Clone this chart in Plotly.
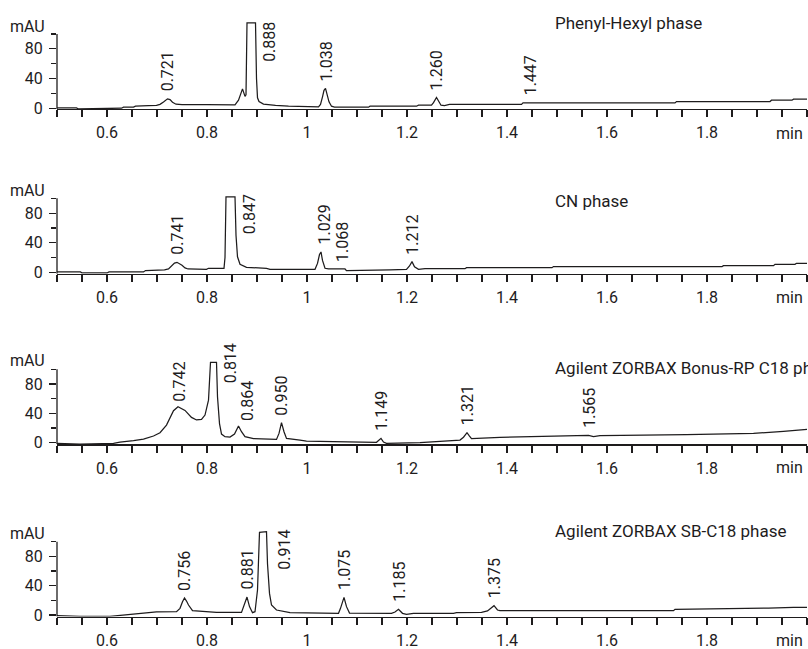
import numpy as np
import plotly.graph_objects as go

# ---------------- data ----------------
phenyl_t = [0.500, 0.539, 0.543, 0.589, 0.593, 0.629, 0.633, 0.653, 0.657, 0.679, 0.683, 0.699,
            0.706, 0.713, 0.721, 0.726, 0.731, 0.738, 0.750, 0.800, 0.856, 0.863, 0.871, 0.876,
            0.878, 0.880, 0.897, 0.899, 0.901, 0.904, 0.913, 0.937, 0.963, 1.023, 1.027, 1.031,
            1.034, 1.037, 1.040, 1.044, 1.049, 1.055, 1.123, 1.126, 1.219, 1.223, 1.249, 1.253,
            1.259, 1.264, 1.268, 1.275, 1.285, 1.429, 1.432, 1.736, 1.739, 1.926, 1.929, 1.970,
            1.973, 2.000]
phenyl_mau = [0.5, 0.5, -1.0, -1.0, 0.0, 0.0, 1.4, 1.4, 2.7, 2.7, 3.6, 3.8,
              5.2, 8.4, 12.6, 11.5, 8.0, 5.4, 4.9, 4.8, 4.6, 10.8, 26.0, 16.0,
              18.0, 115.0, 115.0, 40.0, 14.0, 9.0, 5.5, 3.8, 2.7, 1.8, 5.0, 15.3,
              24.0, 26.6, 20.0, 8.6, 2.7, 1.4, 1.4, 2.7, 2.7, 4.0, 4.0, 7.5,
              14.4, 8.0, 4.0, 3.6, 5.2, 5.2, 7.2, 7.2, 9.0, 9.0, 10.8, 10.8,
              12.2, 12.2]
phenyl_peaks = ["0.721", "0.888", "1.038", "1.260", "1.447"]

cn_t = [0.500, 0.547, 0.550, 0.600, 0.604, 0.673, 0.677, 0.715, 0.723, 0.729, 0.735, 0.740,
        0.745, 0.750, 0.756, 0.762, 0.799, 0.803, 0.834, 0.836, 0.838, 0.856, 0.858, 0.861,
        0.866, 0.879, 0.919, 0.926, 1.016, 1.021, 1.025, 1.028, 1.031, 1.036, 1.043, 1.076,
        1.079, 1.163, 1.166, 1.199, 1.205, 1.210, 1.215, 1.223, 1.236, 1.316, 1.319, 1.490,
        1.493, 1.830, 1.833, 1.933, 1.936, 1.976, 1.979, 2.000]
cn_mau = [0.5, 0.5, -0.9, -0.9, 0.5, 0.5, 2.3, 3.2, 4.5, 8.6, 12.5, 13.5,
          12.0, 9.5, 6.0, 4.5, 4.0, 5.4, 5.4, 20.0, 102.0, 102.0, 50.0, 21.0,
          10.8, 6.8, 5.4, 4.0, 4.0, 12.0, 24.0, 27.5, 16.0, 5.4, 4.5, 4.5,
          2.3, 2.3, 3.2, 4.0, 8.6, 14.4, 7.5, 4.0, 4.9, 4.9, 6.3, 6.3,
          7.7, 7.7, 9.0, 9.0, 10.8, 10.8, 12.2, 12.2]
cn_peaks = ["0.741", "0.847", "1.029", "1.068", "1.212"]

bonus_t = [0.500, 0.546, 0.613, 0.626, 0.653, 0.673, 0.693, 0.706, 0.719, 0.733, 0.742, 0.756,
           0.769, 0.779, 0.789, 0.796, 0.803, 0.807, 0.819, 0.821, 0.825, 0.829, 0.836, 0.846,
           0.855, 0.863, 0.869, 0.876, 0.893, 0.939, 0.944, 0.949, 0.954, 0.959, 0.986, 0.999,
           1.053, 1.119, 1.139, 1.148, 1.153, 1.159, 1.186, 1.226, 1.266, 1.306, 1.313, 1.320,
           1.325, 1.329, 1.386, 1.466, 1.553, 1.563, 1.573, 1.586, 1.759, 1.893, 1.953, 2.000]
bonus_mau = [-0.9, -1.8, -0.9, 0.9, 2.7, 5.0, 9.1, 13.6, 24.0, 43.6, 49.0, 44.0,
             34.5, 31.0, 31.8, 37.7, 58.0, 109.5, 109.5, 62.7, 26.0, 11.8, 8.2, 7.7,
             11.8, 22.7, 15.0, 8.2, 5.5, 4.5, 12.7, 27.3, 15.0, 5.9, 3.6, 2.3,
             1.4, 0.5, 0.5, 5.9, 0.9, -0.9, -0.9, 0.0, 1.8, 3.6, 7.5, 13.6,
             9.0, 5.5, 7.3, 8.6, 9.1, 10.0, 8.2, 9.5, 10.9, 12.7, 15.5, 18.2]
bonus_peaks = ["0.742", "0.814", "0.864", "0.950", "1.149", "1.321", "1.565"]

sb_t = [0.500, 0.546, 0.606, 0.626, 0.653, 0.686, 0.699, 0.739, 0.746, 0.751, 0.755, 0.759,
        0.763, 0.771, 0.813, 0.819, 0.869, 0.875, 0.880, 0.885, 0.891, 0.896, 0.901, 0.905,
        0.919, 0.921, 0.925, 0.929, 0.939, 0.966, 1.063, 1.067, 1.074, 1.079, 1.085, 1.169,
        1.176, 1.183, 1.191, 1.199, 1.213, 1.293, 1.299, 1.349, 1.361, 1.374, 1.381, 1.386,
        1.733, 1.736, 1.919, 1.923, 1.973, 2.000]
sb_mau = [-0.9, -1.8, -1.8, -0.5, 1.8, 3.2, 4.1, 4.5, 9.1, 18.0, 23.2, 19.0,
          13.6, 5.9, 4.5, 3.6, 3.6, 13.6, 24.5, 11.4, 3.2, 4.5, 34.0, 112.7,
          113.6, 70.0, 29.5, 13.6, 6.8, 3.2, 2.3, 9.1, 24.0, 11.4, 2.7, 2.3,
          4.0, 7.8, 2.3, 0.9, 2.3, 2.3, 3.2, 3.6, 5.5, 12.7, 6.8, 5.9,
          5.9, 7.7, 8.6, 9.5, 10.5, 10.5]
sb_peaks = ["0.756", "0.881", "0.914", "1.075", "1.185", "1.375"]

panel_titles = ["Phenyl-Hexyl phase", "CN phase",
                "Agilent ZORBAX Bonus-RP C18 phase", "Agilent ZORBAX SB-C18 phase"]
x_tick_values = [0.6, 0.8, 1.0, 1.2, 1.4, 1.6, 1.8]
x_tick_labels = ["0.6", "0.8", "1", "1.2", "1.4", "1.6", "1.8"]
y_tick_values = [0, 40, 80]
y_tick_labels = ["0", "40", "80"]
y_unit = "mAU"
x_unit = "min"

series = [(phenyl_t, phenyl_mau, phenyl_peaks),
          (cn_t, cn_mau, cn_peaks),
          (bonus_t, bonus_mau, bonus_peaks),
          (sb_t, sb_mau, sb_peaks)]

# ---------------- layout geometry / styling ----------------
W, H = 808, 649
ML, MR = 57, 1
PW = W - ML - MR
zero_px = [108.2, 272.3, 442.7, 615.0]       # pixel row of 0 mAU
hundred_px = [34.0, 198.3, 369.3, 541.7]     # pixel row of 100 mAU
axis_drop_px = [0.7, 1.5, 1.6, 1.6]          # x axis line sits a little below 0
title_px = [23.5, 201.0, 367.5, 530.5]
YMAX = 125.0
INK = "#1e1c1d"
FONT = "Roboto, Liberation Sans, sans-serif"
TICKSIZE = 16
LABELSIZE = 16
TITLESIZE = 17

# labels sitting to the right of saturated peaks: (xshift, yshift above plateau)
right_labels = {"0.888": (19, 3), "0.847": (19, 4), "0.814": (16, 21), "0.914": (21, 4)}
label_xshift = {"0.864": 8, "0.742": 2, "1.029": 3, "1.068": 2}
label_yshift = {"0.742": 3, "0.864": 3}

minor_x = [round(v, 2) for v in np.arange(0.5, 2.0001, 0.05)]


def fy(py):
    """pixel row -> paper fraction"""
    return 1 - py / H


def fx(px):
    """pixel column -> paper fraction"""
    return (px - ML) / PW


fig = go.Figure()
annotations = []
shapes = []

for i, (ts, vs, peaks) in enumerate(series):
    n = "" if i == 0 else str(i + 1)
    s = (zero_px[i] - hundred_px[i]) / 100.0
    ymin = -axis_drop_px[i] / s
    dom = [fy(zero_px[i] + axis_drop_px[i]), fy(zero_px[i] - YMAX * s)]

    fig.add_trace(go.Scatter(x=ts, y=vs, mode="lines",
                             line=dict(color=INK, width=1.25),
                             xaxis="x" + n, yaxis="y" + n,
                             hoverinfo="skip", showlegend=False))

    fig.layout["xaxis" + n] = dict(
        domain=[0, 1], anchor="y" + n, range=[0.5, 2.0],
        showline=True, linecolor=INK, linewidth=1.3,
        ticks="outside", ticklen=7, tickwidth=1.2, tickcolor=INK,
        tickvals=x_tick_values, ticktext=x_tick_labels,
        tickfont=dict(family=FONT, size=TICKSIZE, color=INK),
        ticklabelstandoff=2,
        minor=dict(tickvals=minor_x, ticks="outside", ticklen=7, tickwidth=1.2, tickcolor=INK,
                   showgrid=False),
        showgrid=False, zeroline=False, fixedrange=True, automargin=False)
    fig.layout["yaxis" + n] = dict(
        domain=dom, anchor="x" + n, range=[ymin, YMAX],
        showline=False, ticks="outside", ticklen=7, tickwidth=1.2, tickcolor=INK,
        tickvals=y_tick_values, ticktext=y_tick_labels,
        tickfont=dict(family=FONT, size=TICKSIZE, color=INK),
        ticklabelstandoff=3,
        minor=dict(tickvals=[20, 60, 100], ticks="outside", ticklen=5, tickwidth=1.2,
                   tickcolor=INK, showgrid=False),
        showgrid=False, zeroline=False, fixedrange=True, automargin=False)

    # y axis line only from the x axis up to 100
    shapes.append(dict(type="line", xref="x" + n + " domain", yref="y" + n,
                       x0=0, x1=0, y0=ymin, y1=100, line=dict(color=INK, width=1.3)))

    # unit labels and panel title
    annotations.append(dict(text=y_unit, xref="paper", yref="paper",
                            x=fx(47), y=fy(zero_px[i] - 82),
                            xanchor="right", yanchor="middle", showarrow=False,
                            font=dict(family=FONT, size=TICKSIZE, color=INK)))
    annotations.append(dict(text=x_unit, xref="paper", yref="paper",
                            x=fx(805), y=fy(zero_px[i] + 25),
                            xanchor="right", yanchor="middle", showarrow=False,
                            font=dict(family=FONT, size=TICKSIZE, color=INK)))
    annotations.append(dict(text=panel_titles[i], xref="paper", yref="paper",
                            x=fx(553), y=fy(title_px[i]),
                            xanchor="left", yanchor="middle", showarrow=False,
                            font=dict(family=FONT, size=TITLESIZE, color=INK)))

    # retention-time labels
    ta = np.array(ts)
    va = np.array(vs)
    for lab in peaks:
        rt = float(lab)
        win = va[np.abs(ta - rt) <= 0.006]
        local = max([float(np.interp(rt, ta, va))] + list(win))
        if lab in right_labels:
            xs, ys = right_labels[lab]
            annotations.append(dict(text=lab, textangle=-90, xref="x" + n, yref="y" + n,
                                    x=rt, y=local, xanchor="center", yanchor="top",
                                    xshift=xs, yshift=ys, showarrow=False,
                                    font=dict(family=FONT, size=LABELSIZE, color=INK)))
        else:
            annotations.append(dict(text=lab, textangle=-90, xref="x" + n, yref="y" + n,
                                    x=rt, y=local, xanchor="center", yanchor="bottom",
                                    xshift=label_xshift.get(lab, 0),
                                    yshift=label_yshift.get(lab, 5), showarrow=False,
                                    font=dict(family=FONT, size=LABELSIZE, color=INK)))

fig.update_layout(width=W, height=H, margin=dict(l=ML, r=MR, t=0, b=0, autoexpand=False),
                  paper_bgcolor="white", plot_bgcolor="white",
                  annotations=annotations, shapes=shapes, showlegend=False)

# remove the browser's default 8px page margin so the figure fills the window exactly
fig.write_html("out.html",
               config={"displayModeBar": False, "staticPlot": True},
               post_script="document.body.style.margin='0';"
                           "document.documentElement.style.overflow='hidden';")
